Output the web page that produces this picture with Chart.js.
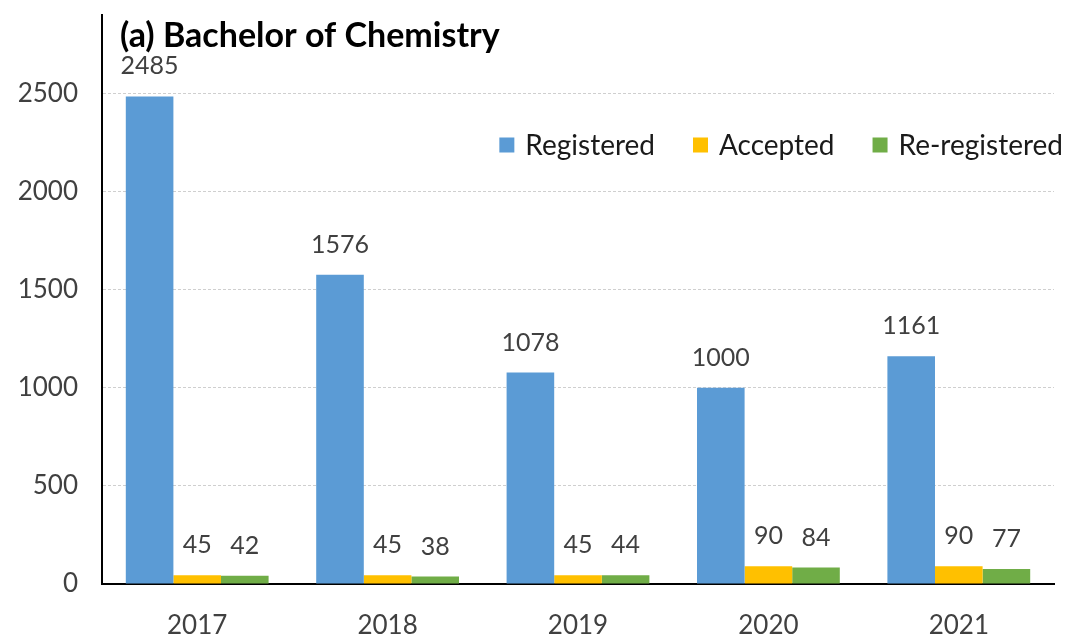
<!DOCTYPE html>
<html>
<head>
<meta charset="utf-8">
<script src="https://cdn.jsdelivr.net/npm/chart.js@4/dist/chart.umd.min.js"></script>
<style>
  html, body { margin: 0; padding: 0; background: #fff; }
  #wrap { width: 1066px; height: 635px; }
</style>
</head>
<body>
<div id="wrap"><canvas id="chart"></canvas></div>
<script>
// data
const years = ['2017', '2018', '2019', '2020', '2021'];
const registered = [2485, 1576, 1078, 1000, 1161];
const accepted = [45, 45, 45, 90, 90];
const reRegistered = [42, 38, 44, 84, 77];
const yTicks = [0, 500, 1000, 1500, 2000, 2500];

const FONT = 'Lato, "Open Sans", sans-serif';
const TXT = '#404040';

// bold title sits inside the plot area
const titlePlugin = {
  id: 'insideTitle',
  afterDraw(chart) {
    const ctx = chart.ctx;
    ctx.save();
    ctx.font = 'bold 34px ' + FONT;
    ctx.fillStyle = '#000';
    ctx.textAlign = 'left';
    ctx.textBaseline = 'alphabetic';
    ctx.fillText('(a) Bachelor of Chemistry', 120, 47);
    ctx.restore();
  }
};

// values above each bar
const valueLabels = {
  id: 'valueLabels',
  afterDatasetsDraw(chart) {
    const ctx = chart.ctx;
    ctx.save();
    ctx.font = '25px ' + FONT;
    ctx.fillStyle = TXT;
    ctx.textAlign = 'center';
    ctx.textBaseline = 'middle';
    chart.data.datasets.forEach((ds, i) => {
      chart.getDatasetMeta(i).data.forEach((bar, j) => {
        ctx.fillText(String(ds.data[j]), bar.x, bar.y - 30);
      });
    });
    ctx.restore();
  }
};

// legend drawn top-right inside the plot
const innerLegend = {
  id: 'innerLegend',
  afterDraw(chart) {
    const ctx = chart.ctx;
    ctx.save();
    ctx.font = '28px ' + FONT;
    ctx.textBaseline = 'middle';
    ctx.textAlign = 'left';
    const box = 15, gapText = 11, gapItem = 38, y = 145;
    const items = chart.data.datasets.map(ds => ({ label: ds.label, color: ds.backgroundColor }));
    let total = 0;
    items.forEach((it, i) => {
      it.w = ctx.measureText(it.label).width;
      total += box + gapText + it.w + (i < items.length - 1 ? gapItem : 0);
    });
    let x = 1063 - total;
    items.forEach(it => {
      ctx.fillStyle = it.color;
      ctx.fillRect(x, y - box / 2, box, box);
      x += box + gapText;
      ctx.fillStyle = '#1a1a1a';
      ctx.fillText(it.label, x, y + 1);
      x += it.w + gapItem;
    });
    ctx.restore();
  }
};

new Chart(document.getElementById('chart'), {
  type: 'bar',
  data: {
    labels: years,
    datasets: [
      { label: 'Registered', data: registered, backgroundColor: '#5B9BD5' },
      { label: 'Accepted', data: accepted, backgroundColor: '#FFC000' },
      { label: 'Re-registered', data: reRegistered, backgroundColor: '#70AD47' }
    ]
  },
  options: {
    responsive: true,
    maintainAspectRatio: false,
    animation: false,
    layout: { padding: { top: 0, right: 12, left: 0, bottom: 0 } },
    datasets: { bar: { categoryPercentage: 0.75, barPercentage: 1 } },
    plugins: {
      legend: { display: false },
      title: { display: false },
      tooltip: { enabled: false }
    },
    scales: {
      x: {
        grid: { display: false, drawTicks: false },
        border: { display: true, color: '#000', width: 2 },
        ticks: { color: TXT, font: { family: FONT, size: 26 }, padding: 26 },
        afterFit(s) { s.height = 51; }
      },
      y: {
        min: 0,
        max: 2900,
        afterBuildTicks(s) {
          s.ticks = yTicks.map(v => ({ value: v }));
        },
        grid: {
          color: '#cfcfcf',
          lineWidth: 1,
          drawTicks: false
        },
        border: { display: true, color: '#000', width: 2, dash: [3, 2] },
        ticks: {
          color: TXT,
          font: { family: FONT, size: 26 },
          padding: 24,
          callback: v => String(v)
        },
        afterFit(s) {
          s.width = 102;
          s.paddingTop = 15;
          s.paddingBottom = 0;
        }
      }
    }
  },
  plugins: [titlePlugin, valueLabels, innerLegend]
});
</script>
</body>
</html>
